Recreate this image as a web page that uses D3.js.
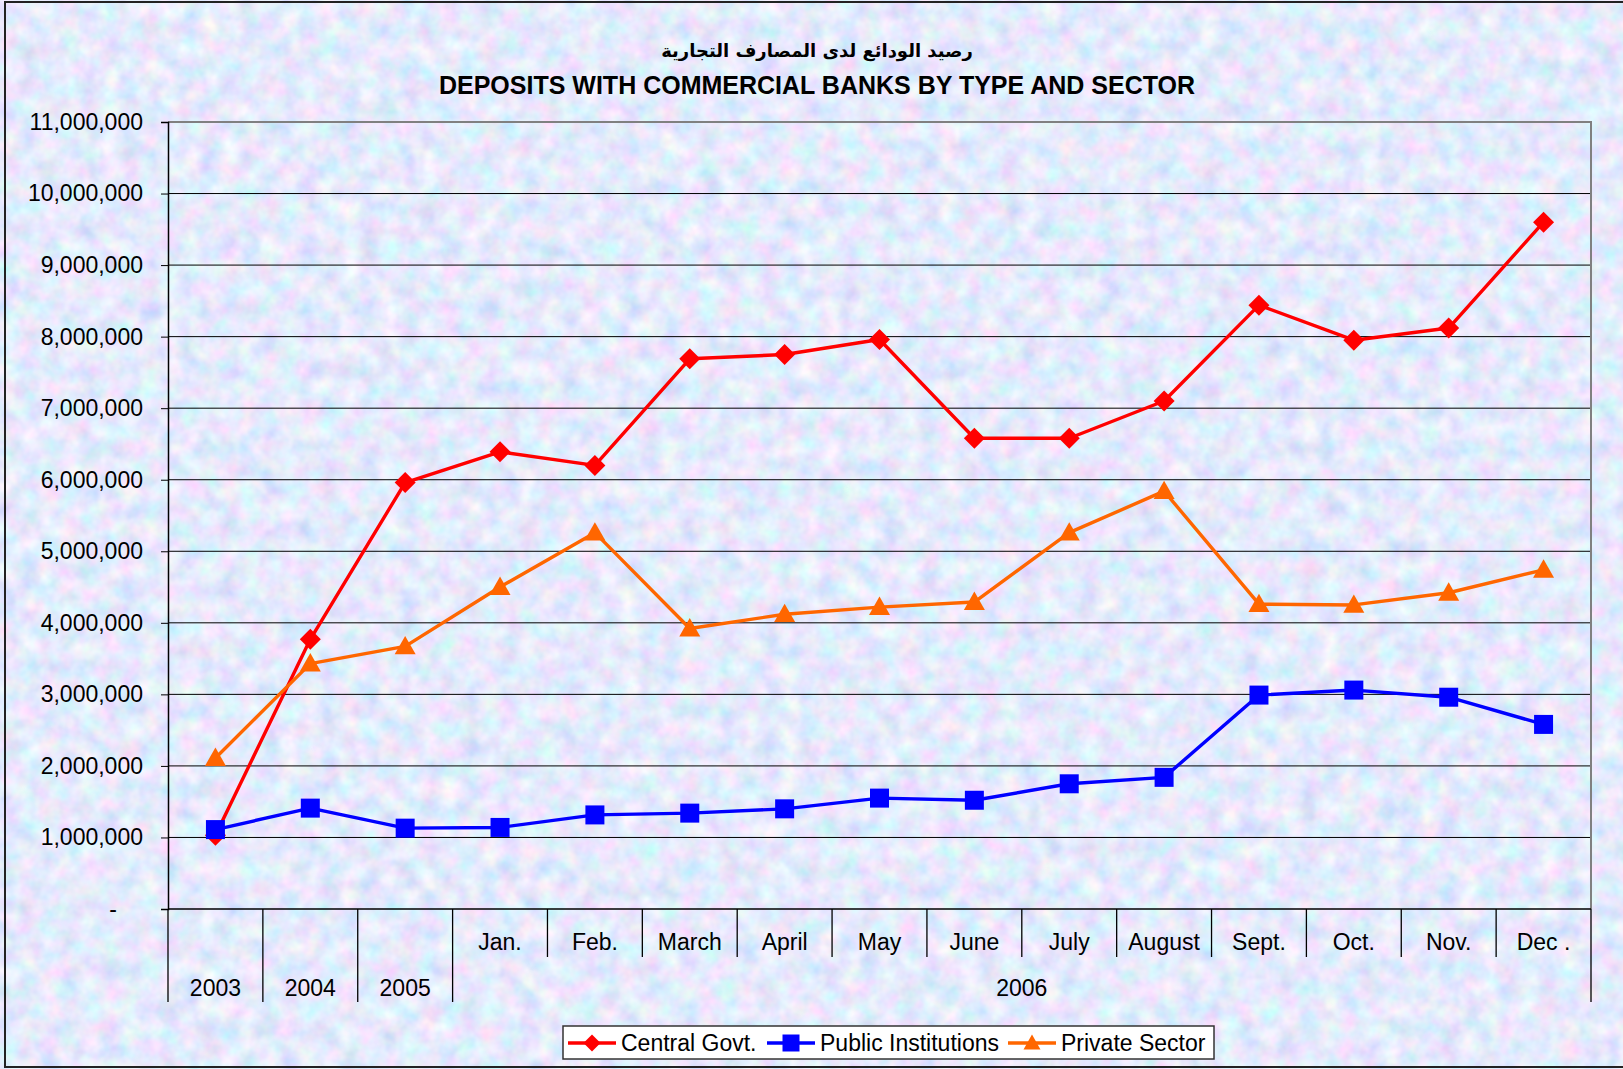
<!DOCTYPE html>
<html>
<head>
<meta charset="utf-8">
<script src="https://cdn.jsdelivr.net/npm/d3@7"></script>
<style>
  body { margin: 0; background: #fff; }
  text { font-family: Arial, "Liberation Sans", sans-serif; }
</style>
</head>
<body>
<div id="chart"></div>
<script>
let width = 1623;
let height = 1069;
let margin = ({top: 122, right: 32, bottom: 160, left: 168});
let fontSize = 23;

// categories
const periods = ["2003", "2004", "2005", "Jan.", "Feb.", "March", "April", "May", "June", "July", "August", "Sept.", "Oct.", "Nov.", "Dec ."];
const monthLabels = ["", "", "", "Jan.", "Feb.", "March", "April", "May", "June", "July", "August", "Sept.", "Oct.", "Nov.", "Dec ."];
const yearLabels = ["2003", "2004", "2005", "2006", "2006", "2006", "2006", "2006", "2006", "2006", "2006", "2006", "2006", "2006", "2006"];

// series values
const centralGovt = [1030000, 3770000, 5960000, 6390000, 6200000, 7690000, 7750000, 7960000, 6580000, 6580000, 7100000, 8440000, 7950000, 8120000, 9600000];
const publicInstitutions = [1110000, 1410000, 1130000, 1140000, 1315000, 1340000, 1400000, 1550000, 1520000, 1750000, 1840000, 2990000, 3060000, 2960000, 2580000];
const privateSector = [2110000, 3430000, 3670000, 4500000, 5260000, 3920000, 4120000, 4220000, 4290000, 5260000, 5840000, 4260000, 4250000, 4420000, 4740000];

const seriesNames = ["Central Govt.", "Public Institutions", "Private Sector"];
const yTicks = [0, 1000000, 2000000, 3000000, 4000000, 5000000, 6000000, 7000000, 8000000, 9000000, 10000000, 11000000];

const titleAr = "رصيد الودائع لدى المصارف التجارية";
const titleEn = "DEPOSITS WITH COMMERCIAL BANKS BY TYPE AND SECTOR";

let series = [
    {name: seriesNames[0], values: centralGovt, color: "#ff0000", marker: "diamond"},
    {name: seriesNames[1], values: publicInstitutions, color: "#0000ff", marker: "square"},
    {name: seriesNames[2], values: privateSector, color: "#ff6600", marker: "triangle"}
];

let svg = d3.select("#chart")
    .append("svg")
    .attr("width", width)
    .attr("height", height);

// mottled paper background
let defs = svg.append("defs");
let filt = defs.append("filter")
    .attr("id", "paper")
    .attr("x", 0).attr("y", 0).attr("width", "100%").attr("height", "100%");
filt.append("feTurbulence")
    .attr("type", "fractalNoise")
    .attr("baseFrequency", "0.05")
    .attr("numOctaves", 3)
    .attr("seed", 7);
filt.append("feColorMatrix")
    .attr("type", "matrix")
    .attr("values", "0.65 0 0 0 0.46  0 0.45 0 0 0.6  0 0 0.25 0 0.85  0 0 0 0 1");

svg.append("rect")
    .attr("x", 0).attr("y", 0)
    .attr("width", width).attr("height", height)
    .attr("filter", "url(#paper)");

// outer chart border
svg.append("rect")
    .attr("x", 5).attr("y", 2)
    .attr("width", width + 10).attr("height", 1065)
    .attr("fill", "none")
    .attr("stroke", "#222")
    .attr("stroke-width", 2);

let x = d3.scaleBand()
    .domain(d3.range(periods.length))
    .range([margin.left, width - margin.right])
    .paddingInner(0).paddingOuter(0);

let y = d3.scaleLinear()
    .domain([0, 11000000])
    .range([height - margin.bottom, margin.top]);

let plotBottom = y(0);
let plotRight = width - margin.right;

// gridlines
svg.append("g")
    .selectAll("line")
    .data(yTicks.filter(d => d > 0 && d < 11000000))
    .join("line")
    .attr("x1", margin.left).attr("x2", plotRight)
    .attr("y1", d => y(d)).attr("y2", d => y(d))
    .attr("stroke", "#000")
    .attr("stroke-width", 1);

// plot frame top/right
svg.append("path")
    .attr("d", `M${margin.left},${y(11000000)}H${plotRight}V${plotBottom}`)
    .attr("fill", "none")
    .attr("stroke", "#808080")
    .attr("stroke-width", 2);

// y axis
let yAxis = d3.axisLeft(y)
    .tickValues(yTicks)
    .tickSize(7)
    .tickPadding(18)
    .tickFormat(d => d === 0 ? "-" : d3.format(",")(d));

let yg = svg.append("g")
    .attr("transform", `translate(${margin.left},0)`)
    .call(yAxis);
yg.select(".domain").attr("stroke", "#000").attr("stroke-width", 1.5);
yg.selectAll(".tick line").attr("stroke", "#000");
yg.selectAll(".tick text")
    .attr("font-size", fontSize)
    .attr("font-family", "Arial, 'Liberation Sans', sans-serif")
    .attr("fill", "#000");
yg.selectAll(".tick text").filter(d => d === 0)
    .attr("x", -55)
    .attr("text-anchor", "middle");

// x axis baseline
svg.append("line")
    .attr("x1", margin.left).attr("x2", plotRight)
    .attr("y1", plotBottom).attr("y2", plotBottom)
    .attr("stroke", "#000").attr("stroke-width", 1.5);

// category separators
let step = x.step();
let bounds = d3.range(periods.length + 1);
svg.append("g")
    .selectAll("line")
    .data(bounds)
    .join("line")
    .attr("x1", i => margin.left + i * step)
    .attr("x2", i => margin.left + i * step)
    .attr("y1", plotBottom)
    .attr("y2", i => {
        let longTick = i === 0 || i === periods.length || yearLabels[i] !== yearLabels[i - 1];
        return longTick ? plotBottom + 93 : plotBottom + 48;
    })
    .attr("stroke", "#000")
    .attr("stroke-width", 1.3);

// month labels
svg.append("g")
    .selectAll("text")
    .data(monthLabels.map((m, i) => ({m, i})).filter(d => d.m))
    .join("text")
    .attr("x", d => x(d.i) + step / 2)
    .attr("y", plotBottom + 41)
    .attr("text-anchor", "middle")
    .attr("font-size", fontSize)
    .text(d => d.m);

// year labels, centred over their span
let yearGroups = d3.groups(yearLabels.map((yr, i) => ({yr, i})), d => d.yr);
svg.append("g")
    .selectAll("text")
    .data(yearGroups)
    .join("text")
    .attr("x", g => (x(g[1][0].i) + x(g[1][g[1].length - 1].i) + step) / 2)
    .attr("y", plotBottom + 87)
    .attr("text-anchor", "middle")
    .attr("font-size", fontSize)
    .text(g => g[0]);

// markers
function markerPath(type, s) {
    if (type === "diamond") return `M0,${-s}L${s},0L0,${s}L${-s},0Z`;
    if (type === "square") return `M${-s},${-s}H${s}V${s}H${-s}Z`;
    return `M0,${-s}L${s},${s * 0.75}H${-s}Z`;
}

let line = d3.line()
    .x((d, i) => x(i) + step / 2)
    .y(d => y(d));

series.forEach(s => {
    let g = svg.append("g");
    g.append("path")
        .attr("d", line(s.values))
        .attr("fill", "none")
        .attr("stroke", s.color)
        .attr("stroke-width", 3.4)
        .attr("stroke-linejoin", "round");
    g.selectAll("path.mark")
        .data(s.values)
        .join("path")
        .attr("class", "mark")
        .attr("transform", (d, i) => `translate(${x(i) + step / 2},${y(d)})`)
        .attr("d", markerPath(s.marker, s.marker === "square" ? 9.5 : 10.5))
        .attr("fill", s.color);
});

// titles
svg.append("text")
    .attr("x", 817).attr("y", 57)
    .attr("text-anchor", "middle")
    .attr("font-size", 18)
    .attr("font-weight", "bold")
    .style("font-family", "'DejaVu Sans', Arial, sans-serif")
    .attr("direction", "rtl")
    .text(titleAr);

svg.append("text")
    .attr("x", 817).attr("y", 94)
    .attr("text-anchor", "middle")
    .attr("font-size", 25)
    .attr("font-weight", "bold")
    .text(titleEn);

// legend
let legend = svg.append("g");
legend.append("rect")
    .attr("x", 563).attr("y", 1026)
    .attr("width", 651).attr("height", 33)
    .attr("fill", "#fff")
    .attr("stroke", "#333")
    .attr("stroke-width", 1.5);

let legendX = [568, 767, 1008];
series.forEach((s, i) => {
    let lx = legendX[i];
    let item = legend.append("g").attr("transform", `translate(${lx},1043)`);
    item.append("line")
        .attr("x1", 0).attr("x2", 48)
        .attr("stroke", s.color).attr("stroke-width", 3.4);
    item.append("path")
        .attr("transform", "translate(24,0)")
        .attr("d", markerPath(s.marker, 8.5))
        .attr("fill", s.color);
    item.append("text")
        .attr("x", 53).attr("y", 8)
        .attr("font-size", fontSize)
        .text(s.name);
});
</script>
</body>
</html>
